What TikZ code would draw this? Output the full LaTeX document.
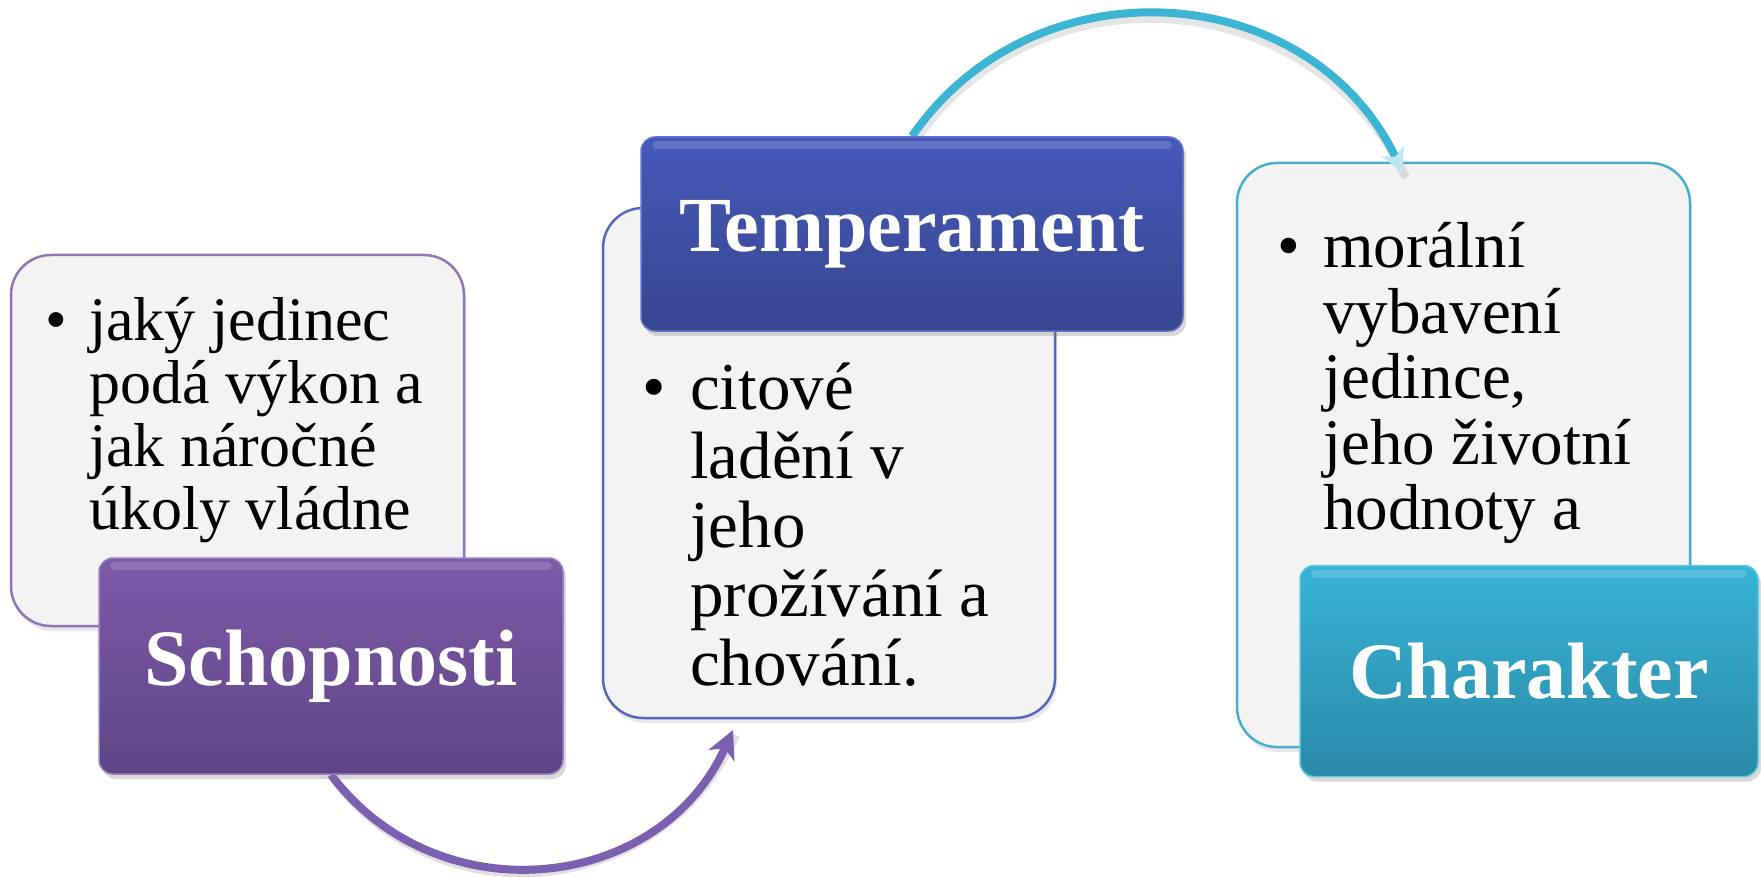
\documentclass[tikz,border=0pt]{standalone}
\usepackage{fontspec}
\setmainfont{Liberation Serif}
\usetikzlibrary{arrows.meta,shadows,backgrounds}
\definecolor{lightfill}{HTML}{F3F3F3}
\definecolor{box1c}{HTML}{8E76B9}
\definecolor{box2c}{HTML}{5468C0}
\definecolor{box3c}{HTML}{46AFCC}
\definecolor{sch1}{HTML}{7D5AA8}
\definecolor{sch2}{HTML}{5F4585}
\definecolor{schrim}{HTML}{9A80C6}
\definecolor{tem1}{HTML}{4659BA}
\definecolor{tem2}{HTML}{37468F}
\definecolor{temrim}{HTML}{6275CF}
\definecolor{cha1}{HTML}{38B3D6}
\definecolor{cha2}{HTML}{2A8AA7}
\definecolor{charim}{HTML}{5CC8E4}
\definecolor{purparc}{HTML}{7B5FB1}
\definecolor{cyanarc}{HTML}{3CB4D4}
\definecolor{cyanpale}{HTML}{BFE5EF}
\newcommand{\mybullet}{\llap{•\hspace{0.36em}}}
\begin{document}
\begin{tikzpicture}[x=1pt,y=1pt,
  lightbox/.style={draw, line width=2.5pt, fill=lightfill, rounded corners=40pt, inner sep=0pt,
    drop shadow={opacity=0.18, shadow xshift=2pt, shadow yshift=-5pt}},
  headbox/.style={rounded corners=14pt, inner sep=0pt, text=white,
    font=\fontsize{80}{90}\selectfont\bfseries, line width=1.5pt,
    drop shadow={opacity=0.3, shadow xshift=3pt, shadow yshift=-5pt}},
  bodytext/.style={inner sep=0pt, anchor=base west, text=black},
  conn/.style={line width=8pt},
  gloss/.style={line width=8pt, line cap=round, white, opacity=0.16}]
\useasboundingbox (0,0) rectangle (1761,-877);

% heading boxes
\node[headbox, top color=sch1, bottom color=sch2, draw=schrim,
  minimum width=464pt, minimum height=216pt] (h1) at (331,-666) {Schopnosti};
\node[headbox, top color=tem1, bottom color=tem2, draw=temrim,
  font=\fontsize{78}{90}\selectfont\bfseries,
  minimum width=542pt, minimum height=194pt] (h2) at (912,-234) {Temperament};
\node[headbox, top color=cha1, bottom color=cha2, draw=charim,
  minimum width=458pt, minimum height=211pt] (h3) at (1529,-671) {Charakter};

\draw[gloss] ([xshift=16pt,yshift=-9pt]h1.north west) -- ([xshift=-16pt,yshift=-9pt]h1.north east);
\draw[gloss] ([xshift=16pt,yshift=-9pt]h2.north west) -- ([xshift=-16pt,yshift=-9pt]h2.north east);
\draw[gloss] ([xshift=16pt,yshift=-9pt]h3.north west) -- ([xshift=-16pt,yshift=-9pt]h3.north east);

% body texts
\node[bodytext, font=\fontsize{62}{63}\selectfont] (t1) at (89,-340)
  {\vtop{\baselineskip=63pt \lineskiplimit=-200pt
   \hbox{\mybullet jaký jedinec}\hbox{podá výkon a}\hbox{jak náročné}\hbox{úkoly vládne}}};
\node[bodytext, font=\fontsize{67}{69}\selectfont] (t2) at (690,-409)
  {\vtop{\baselineskip=69pt \lineskiplimit=-200pt
   \hbox{\mybullet citové}\hbox{ladění v}\hbox{jeho}\hbox{prožívání a}\hbox{chování.}}};
\node[bodytext, font=\fontsize{65}{65.5}\selectfont] (t3) at (1323,-268)
  {\vtop{\baselineskip=65.5pt \lineskiplimit=-200pt
   \hbox{\mybullet morální}\hbox{vybavení}\hbox{jedince,}\hbox{jeho životní}\hbox{hodnoty a}}};

\coordinate (p1end) at (733,-730);
\coordinate (c1end) at (1403,-173);

\begin{scope}[on background layer]
\fill[white] (0,0) rectangle (1761,-877);
\node[lightbox, draw=box1c, minimum width=453pt, minimum height=371pt] (b1) at (237.5,-440.5) {};
\node[lightbox, draw=box2c, minimum width=452pt, minimum height=510pt] (b2) at (829,-463) {};
\node[lightbox, draw=box3c, minimum width=453pt, minimum height=584pt] (b3) at (1463.5,-455) {};

% connector shadows
\draw[conn, black, opacity=0.12] ([shift={(3,-5)}]h1.south) .. controls (441,-922) and (663,-898) .. ([shift={(3,-5)}]p1end);
\draw[conn, black, opacity=0.10] ([shift={(3,-5)}]h2.north) .. controls (1038,37) and (1313,17) .. ([shift={(3,-5)}]c1end);
% connectors
\draw[conn, purparc, -{Stealth[length=28pt,width=28pt,inset=8pt]}]
  (h1.south) .. controls (438,-917) and (660,-893) .. (p1end);
\draw[conn, cyanarc, -{Stealth[length=24pt,width=24pt,inset=6pt,color=cyanpale]}]
  (h2.north) .. controls (1035,42) and (1310,22) .. (c1end);
\end{scope}
\end{tikzpicture}
\end{document}
